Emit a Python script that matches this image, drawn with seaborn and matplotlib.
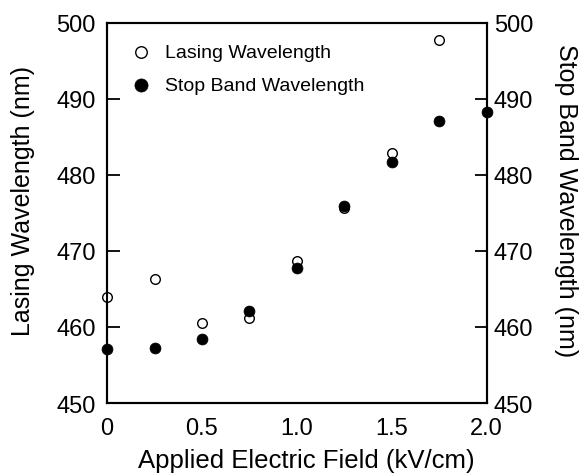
import pandas as pd
import matplotlib
matplotlib.use("Agg")
import matplotlib.pyplot as plt
import seaborn as sns

# values
field_lasing = [0.0, 0.25, 0.5, 0.75, 1.0, 1.25, 1.5, 1.75]
lasing_nm = [463.9, 466.3, 460.5, 461.2, 468.7, 475.6, 482.9, 497.8]

field_stop = [0.0, 0.25, 0.5, 0.75, 1.0, 1.25, 1.5, 1.75, 2.0]
stop_nm = [457.1, 457.3, 458.4, 462.1, 467.7, 475.9, 481.7, 487.1, 488.3]

x_ticks = [0, 0.5, 1.0, 1.5, 2.0]
x_tick_labels = ["0", "0.5", "1.0", "1.5", "2.0"]
y_ticks = [450, 460, 470, 480, 490, 500]

sns.set_style("white")
plt.rcParams['font.family'] = ['Liberation Sans', 'DejaVu Sans']
plt.rcParams['text.color'] = 'black'
plt.rcParams['axes.labelcolor'] = 'black'
plt.rcParams['xtick.color'] = 'black'
plt.rcParams['ytick.color'] = 'black'

lasing = pd.DataFrame({"field": field_lasing, "wl": lasing_nm})
stop = pd.DataFrame({"field": field_stop, "wl": stop_nm})

fig = plt.figure(figsize=(5.85, 4.77), dpi=100)
ax = fig.add_axes([0.183, 0.153, 0.649, 0.797])

sns.scatterplot(data=lasing, x="field", y="wl", ax=ax, marker="o", s=48,
                facecolor="white", edgecolor="black", linewidth=1.0,
                label="Lasing Wavelength", clip_on=False, zorder=3)
sns.scatterplot(data=stop, x="field", y="wl", ax=ax, marker="o", s=62,
                color="black", edgecolor="black", linewidth=0.5,
                label="Stop Band Wavelength", clip_on=False, zorder=3)

ax.set_xlim(0, 2.0)
ax.set_ylim(450, 500)
ax.set_xticks(x_ticks)
ax.set_xticklabels(x_tick_labels)
ax.set_yticks(y_ticks)
ax.tick_params(axis="both", direction="in", length=9, width=1.3,
               labelsize=17)
ax.tick_params(axis="x", pad=10)
ax.tick_params(axis="y", pad=8)
ax.set_xlabel("Applied Electric Field (kV/cm)", fontsize=18.5)
ax.xaxis.set_label_coords(0.524, -0.118)
ax.set_ylabel("Lasing Wavelength (nm)", fontsize=18)
ax.yaxis.set_label_coords(-0.19, 0.534)
for sp in ax.spines.values():
    sp.set_linewidth(1.5)
    sp.set_color("black")

ax2 = ax.twinx()
ax2.set_ylim(450, 500)
ax2.set_yticks(y_ticks)
ax2.tick_params(axis="y", direction="in", length=9, width=1.3,
                labelsize=17, pad=5)
ax2.set_ylabel("Stop Band Wavelength (nm)", fontsize=18, rotation=270,
               va="bottom")
ax2.yaxis.set_label_coords(1.176, 0.535)
for sp in ax2.spines.values():
    sp.set_linewidth(1.5)
    sp.set_color("black")

ax.legend(loc="upper left", frameon=False, fontsize=14, handletextpad=0.7,
          borderaxespad=0.0, borderpad=0.0, labelspacing=0.8,
          handlelength=1.0, markerscale=1.2, bbox_to_anchor=(0.065, 0.947))

fig.savefig("out.png", dpi=100)
